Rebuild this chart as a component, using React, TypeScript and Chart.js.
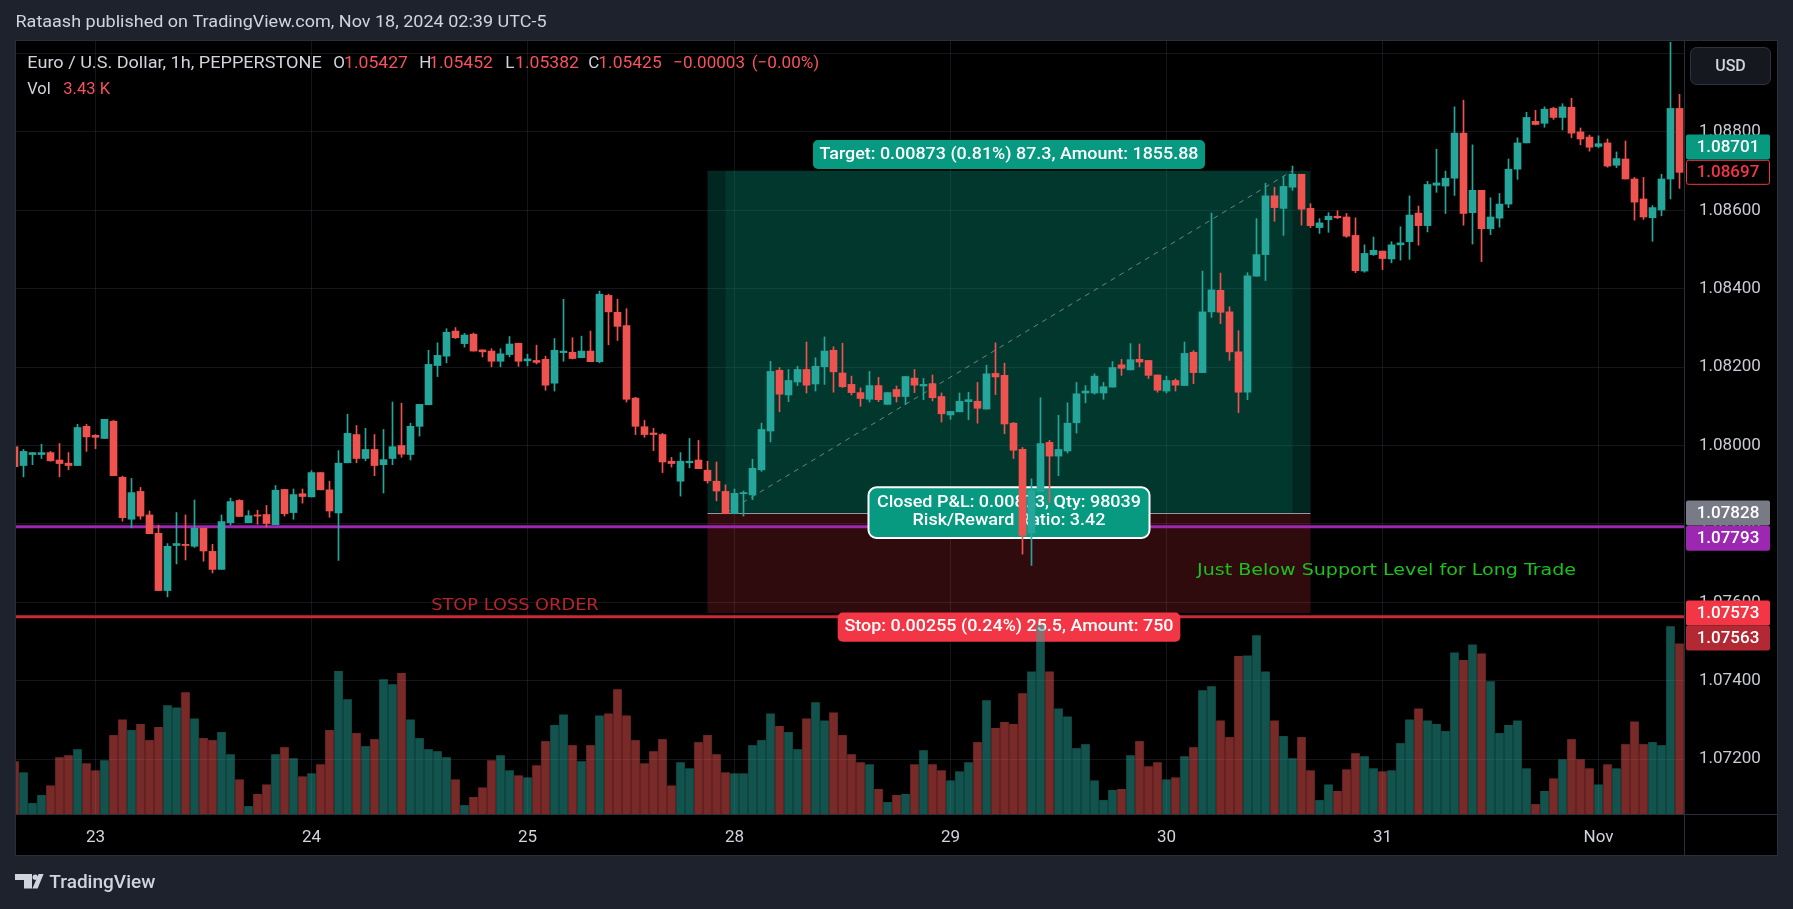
import React, { useEffect, useRef } from 'react';
import { Chart, registerables } from 'chart.js';

Chart.register(...registerables);

const OPEN = [1.07997,1.07949,1.07977,1.07977,1.07982,1.07963,1.07955,1.07949,1.08049,1.08026,1.08018,1.08062,1.07919,1.07812,1.07883,1.07823,1.07776,1.07630,1.07745,1.07748,1.07743,1.07789,1.07730,1.07684,1.07803,1.07860,1.07803,1.07823,1.07824,1.07798,1.07888,1.07829,1.07877,1.07869,1.07931,1.07887,1.07828,1.07956,1.08028,1.07967,1.07990,1.07951,1.07967,1.08000,1.07977,1.08049,1.08104,1.08204,1.08228,1.08292,1.08260,1.08284,1.08244,1.08241,1.08215,1.08232,1.08261,1.08216,1.08217,1.08220,1.08159,1.08237,1.08238,1.08224,1.08241,1.08214,1.08383,1.08340,1.08306,1.08121,1.08048,1.08032,1.08028,1.07960,1.07909,1.07956,1.07963,1.07937,1.07909,1.07883,1.07826,1.07877,1.07874,1.07938,1.08037,1.08192,1.08129,1.08162,1.08194,1.08157,1.08201,1.08243,1.08185,1.08156,1.08135,1.08118,1.08153,1.08105,1.08143,1.08125,1.08172,1.08152,1.08158,1.08125,1.08078,1.08086,1.08112,1.08113,1.08093,1.08184,1.08179,1.08057,1.07990,1.07777,1.07883,1.08008,1.07973,1.07986,1.08058,1.08134,1.08134,1.08134,1.08149,1.08206,1.08193,1.08220,1.08217,1.08180,1.08139,1.08166,1.08153,1.08238,1.08186,1.08341,1.08396,1.08341,1.08239,1.08136,1.08432,1.08487,1.08637,1.08605,1.08659,1.08692,1.08605,1.08556,1.08576,1.08585,1.08583,1.08536,1.08445,1.08487,1.08496,1.08476,1.08512,1.08520,1.08593,1.08561,1.08664,1.08662,1.08682,1.08797,1.08594,1.08651,1.08553,1.08580,1.08616,1.08705,1.08772,1.08827,1.08822,1.08860,1.08837,1.08863,1.08800,1.08787,1.08763,1.08772,1.08715,1.08731,1.08680,1.08629,1.08581,1.08601,1.08680,1.08860];
const HIGH = [1.07999,1.07990,1.07982,1.08003,1.07985,1.08005,1.07982,1.08054,1.08054,1.08028,1.08067,1.08064,1.07922,1.07916,1.07893,1.07833,1.07797,1.07750,1.07829,1.07823,1.07861,1.07789,1.07748,1.07823,1.07866,1.07862,1.07834,1.07835,1.07847,1.07898,1.07888,1.07889,1.07889,1.07936,1.07931,1.07909,1.07987,1.08080,1.08051,1.08044,1.08028,1.08041,1.08111,1.08108,1.08057,1.08105,1.08243,1.08262,1.08298,1.08301,1.08286,1.08287,1.08244,1.08247,1.08247,1.08278,1.08261,1.08233,1.08256,1.08228,1.08273,1.08373,1.08275,1.08279,1.08292,1.08394,1.08386,1.08373,1.08349,1.08123,1.08064,1.08044,1.08031,1.07970,1.07982,1.08018,1.08013,1.07960,1.07958,1.07900,1.07889,1.07884,1.07965,1.08057,1.08215,1.08199,1.08194,1.08202,1.08264,1.08224,1.08277,1.08252,1.08261,1.08177,1.08147,1.08189,1.08174,1.08135,1.08152,1.08176,1.08194,1.08171,1.08180,1.08134,1.08087,1.08134,1.08136,1.08161,1.08205,1.08262,1.08210,1.08059,1.07995,1.07915,1.08122,1.08013,1.08077,1.08109,1.08161,1.08153,1.08183,1.08161,1.08214,1.08220,1.08260,1.08259,1.08217,1.08180,1.08177,1.08170,1.08264,1.08242,1.08445,1.08593,1.08440,1.08354,1.08293,1.08441,1.08579,1.08669,1.08659,1.08686,1.08713,1.08692,1.08617,1.08579,1.08594,1.08599,1.08592,1.08581,1.08512,1.08532,1.08496,1.08520,1.08558,1.08637,1.08611,1.08674,1.08756,1.08700,1.08864,1.08881,1.08767,1.08651,1.08632,1.08643,1.08731,1.08785,1.08850,1.08855,1.08864,1.08863,1.08872,1.08886,1.08810,1.08792,1.08790,1.08782,1.08749,1.08777,1.08684,1.08684,1.08612,1.08692,1.09029,1.08896];
const LOW = [1.07946,1.07920,1.07951,1.07967,1.07960,1.07920,1.07938,1.07949,1.07985,1.07992,1.08018,1.07923,1.07807,1.07790,1.07812,1.07775,1.07630,1.07614,1.07698,1.07708,1.07740,1.07705,1.07675,1.07684,1.07797,1.07819,1.07803,1.07799,1.07792,1.07798,1.07820,1.07812,1.07853,1.07869,1.07887,1.07817,1.07707,1.07956,1.07956,1.07961,1.07923,1.07879,1.07951,1.07970,1.07963,1.08024,1.08104,1.08176,1.08211,1.08273,1.08251,1.08241,1.08226,1.08201,1.08201,1.08226,1.08202,1.08203,1.08208,1.08141,1.08139,1.08215,1.08221,1.08224,1.08214,1.08211,1.08257,1.08268,1.08111,1.08028,1.08021,1.07987,1.07931,1.07945,1.07871,1.07943,1.07941,1.07904,1.07859,1.07826,1.07826,1.07820,1.07862,1.07934,1.08009,1.08086,1.08112,1.08153,1.08134,1.08139,1.08156,1.08136,1.08148,1.08129,1.08100,1.08111,1.08112,1.08105,1.08111,1.08104,1.08135,1.08117,1.08114,1.08060,1.08067,1.08086,1.08066,1.08057,1.08093,1.08130,1.08030,1.07967,1.07723,1.07694,1.07883,1.07855,1.07923,1.07981,1.08032,1.08109,1.08131,1.08118,1.08149,1.08179,1.08193,1.08201,1.08171,1.08136,1.08134,1.08139,1.08153,1.08158,1.08186,1.08327,1.08311,1.08217,1.08084,1.08117,1.08432,1.08421,1.08572,1.08536,1.08651,1.08562,1.08556,1.08541,1.08544,1.08579,1.08531,1.08441,1.08442,1.08485,1.08449,1.08466,1.08473,1.08475,1.08511,1.08545,1.08646,1.08592,1.08638,1.08562,1.08514,1.08469,1.08538,1.08557,1.08607,1.08679,1.08772,1.08818,1.08812,1.08832,1.08805,1.08785,1.08767,1.08751,1.08760,1.08710,1.08709,1.08680,1.08575,1.08577,1.08521,1.08586,1.08629,1.08656];
const CLOSE = [1.07946,1.07985,1.07982,1.07982,1.07961,1.07954,1.07949,1.08046,1.08022,1.08021,1.08067,1.07923,1.07816,1.07880,1.07820,1.07775,1.07630,1.07743,1.07750,1.07745,1.07789,1.07731,1.07684,1.07806,1.07857,1.07819,1.07821,1.07820,1.07801,1.07886,1.07826,1.07875,1.07870,1.07931,1.07887,1.07833,1.07955,1.08031,1.07967,1.07990,1.07949,1.07964,1.07997,1.07978,1.08049,1.08105,1.08207,1.08230,1.08289,1.08275,1.08282,1.08241,1.08239,1.08215,1.08234,1.08259,1.08215,1.08221,1.08212,1.08154,1.08243,1.08241,1.08222,1.08241,1.08214,1.08386,1.08341,1.08304,1.08118,1.08049,1.08028,1.08028,1.07958,1.07954,1.07960,1.07960,1.07941,1.07910,1.07884,1.07826,1.07878,1.07880,1.07942,1.08041,1.08189,1.08131,1.08166,1.08194,1.08154,1.08202,1.08241,1.08188,1.08150,1.08135,1.08120,1.08153,1.08117,1.08135,1.08125,1.08176,1.08154,1.08156,1.08122,1.08081,1.08087,1.08113,1.08117,1.08095,1.08183,1.08175,1.08055,1.07988,1.07771,1.07885,1.08005,1.07973,1.07990,1.08057,1.08132,1.08139,1.08177,1.08150,1.08199,1.08197,1.08219,1.08213,1.08179,1.08141,1.08166,1.08154,1.08235,1.08186,1.08341,1.08397,1.08340,1.08239,1.08136,1.08433,1.08487,1.08637,1.08607,1.08661,1.08692,1.08603,1.08561,1.08568,1.08585,1.08581,1.08534,1.08446,1.08490,1.08498,1.08477,1.08512,1.08517,1.08588,1.08561,1.08666,1.08670,1.08682,1.08797,1.08592,1.08651,1.08553,1.08583,1.08616,1.08705,1.08772,1.08837,1.08819,1.08858,1.08837,1.08864,1.08797,1.08782,1.08761,1.08770,1.08713,1.08732,1.08680,1.08621,1.08583,1.08607,1.08680,1.08860,1.08697];
const VOLUME = [2080,1640,420,740,1120,2240,2320,2560,2000,1720,2120,3120,3740,3320,3560,2920,3440,4300,4220,4820,3780,3000,2920,3240,2360,1360,300,780,1160,2360,2640,2200,1480,1600,1960,3320,5660,4540,3200,2680,2960,5340,5140,5580,3740,3000,2560,2480,2240,1360,340,660,1040,2120,2320,1720,1520,1440,1920,2880,3520,3940,2720,2080,2720,3900,3980,4940,3900,2920,2000,2480,2960,1120,2040,1800,2840,3120,2360,1640,1600,1600,2720,2920,3980,3480,3240,2560,3780,4420,3700,4020,3120,2360,2040,1960,980,460,740,780,1960,2520,1960,1720,1320,1680,2040,2840,4500,3400,3640,3560,4780,5640,7500,5640,4180,3860,2600,2760,1320,540,940,980,2320,2880,1880,2040,1360,1440,2280,2640,4900,5060,3700,3040,6260,6280,7080,5640,3700,3080,2200,3040,1720,540,1160,900,1760,2400,2280,1800,1680,1720,2800,3740,4180,3700,3560,3280,6400,6100,6720,6360,5260,3200,3520,3700,1800,380,900,1400,2160,2960,2160,1800,1160,1960,1800,2760,3660,2760,2840,2720,7440,6760];

const DAY_TICKS = [9, 33, 57, 80, 104, 128, 152, 176];
const DAY_LABELS = ['23', '24', '25', '28', '29', '30', '31', 'Nov'];
const PRICE_TICKS = [1.072, 1.074, 1.076, 1.078, 1.08, 1.082, 1.084, 1.086, 1.088, 1.09];

const ENTRY = 1.07828;
const TARGET = 1.08701;
const STOP = 1.07573;
const SUPPORT = 1.07793;
const STOP_LINE = 1.07563;
const LAST = 1.08697;
const BOX_START = 77;
const BOX_END = 144;
const TRADE_IN = 79;
const TRADE_OUT = 142;

const UP = '#26a69a';
const DOWN = '#ef5350';
const TEXT = '#d1d4dc';
const VALUE_RED = '#f7525f';

function fitText(ctx: CanvasRenderingContext2D, text: string, x: number, y: number, w: number, font: string, color: string, align: CanvasTextAlign = 'left') {
  ctx.save();
  ctx.font = font;
  ctx.fillStyle = color;
  ctx.textBaseline = 'middle';
  ctx.textAlign = align;
  const m = ctx.measureText(text).width || 1;
  ctx.translate(x, y);
  ctx.scale(w / m, 1);
  ctx.fillText(text, 0, 0);
  ctx.restore();
}

function plainText(ctx: CanvasRenderingContext2D, text: string, x: number, y: number, font: string, color: string, align: CanvasTextAlign = 'left') {
  ctx.save();
  ctx.font = font;
  ctx.fillStyle = color;
  ctx.textBaseline = 'middle';
  ctx.textAlign = align;
  ctx.fillText(text, x, y);
  ctx.restore();
}

function rr(ctx: CanvasRenderingContext2D, x: number, y: number, w: number, h: number, r: number) {
  ctx.beginPath();
  ctx.roundRect(x, y, w, h, r);
}

function seg(ctx: CanvasRenderingContext2D, x1: number, y1: number, x2: number, y2: number) {
  ctx.beginPath();
  ctx.moveTo(x1, y1);
  ctx.lineTo(x2, y2);
  ctx.stroke();
}

const decor = {
  id: 'tvDecor',
  beforeDraw(chart: any) {
    const ctx: CanvasRenderingContext2D = chart.ctx;
    ctx.save();
    ctx.fillStyle = '#1e222d';
    ctx.fillRect(0, 0, chart.width, chart.height);
    ctx.fillStyle = '#000000';
    ctx.fillRect(16, 41, 1761, 814);
    ctx.strokeStyle = '#2a2e39';
    ctx.lineWidth = 1;
    ctx.strokeRect(15.5, 40.5, 1762, 815);
    fitText(ctx, 'Rataash published on TradingView.com, Nov 18, 2024 02:39 UTC-5', 15.5, 23, 531, '17px Roboto', TEXT);
    ctx.fillStyle = TEXT;
    ctx.fillRect(15, 874, 17, 6);
    ctx.fillRect(24, 874, 8, 14.5);
    ctx.beginPath();
    ctx.arc(35.2, 877.2, 2.6, 0, Math.PI * 2);
    ctx.fill();
    ctx.beginPath();
    ctx.moveTo(38.6, 874);
    ctx.lineTo(43.6, 874);
    ctx.lineTo(37.6, 888.5);
    ctx.lineTo(32.4, 888.5);
    ctx.closePath();
    ctx.fill();
    fitText(ctx, 'TradingView', 49.3, 883, 106, '500 19px Roboto', TEXT);
    ctx.restore();
  },
  beforeDatasetsDraw(chart: any) {
    const ctx: CanvasRenderingContext2D = chart.ctx;
    const a = chart.chartArea;
    const x = chart.scales.x;
    const y = chart.scales.y;
    ctx.save();
    ctx.beginPath();
    ctx.rect(a.left, a.top, a.right - a.left, a.bottom - a.top);
    ctx.clip();
    const xL = x.getPixelForValue(BOX_START);
    const xR = x.getPixelForValue(BOX_END);
    const xi = x.getPixelForValue(TRADE_IN);
    const xo = x.getPixelForValue(TRADE_OUT);
    const yT = y.getPixelForValue(TARGET);
    const yE = y.getPixelForValue(ENTRY);
    const yS = y.getPixelForValue(STOP);
    ctx.fillStyle = 'rgba(8,153,129,0.25)';
    ctx.fillRect(xL, yT, xR - xL, yE - yT);
    ctx.fillStyle = 'rgba(8,153,129,0.15)';
    ctx.fillRect(xi, yT, xo - xi, yE - yT);
    ctx.fillStyle = 'rgba(242,54,69,0.2)';
    ctx.fillRect(xL, yE, xR - xL, yS - yE);
    ctx.lineWidth = 1;
    ctx.strokeStyle = '#9598a1';
    seg(ctx, xL, Math.round(yE) + 0.5, xR, Math.round(yE) + 0.5);
    ctx.setLineDash([5, 5]);
    ctx.strokeStyle = 'rgba(149,152,161,0.75)';
    seg(ctx, xi, yE, xo, yT);
    ctx.setLineDash([]);
    const yP = y.getPixelForValue(SUPPORT);
    ctx.strokeStyle = '#9c27b0';
    ctx.lineWidth = 3;
    seg(ctx, a.left, yP, a.right, yP);
    const yR = y.getPixelForValue(STOP_LINE);
    ctx.strokeStyle = '#c92a36';
    seg(ctx, a.left, yR, a.right, yR);
    fitText(ctx, 'STOP LOSS ORDER', x.getPixelForValue(46.3), yR - 11, 167.5, '16px "DejaVu Sans"', '#b8232f');
    fitText(ctx, 'Just Below Support Level for Long Trade', x.getPixelForValue(131.4), y.getPixelForValue(1.0768), 379, '16px "DejaVu Sans"', '#1dc21d');
    const cx = (xL + xR) / 2;
    ctx.fillStyle = '#089981';
    rr(ctx, cx - 196, yT - 30.7, 392, 29, 5);
    ctx.fill();
    fitText(ctx, 'Target: 0.00873 (0.81%) 87.3, Amount: 1855.88', cx, yT - 16.2, 379, '500 17px Roboto', '#ffffff', 'center');
    ctx.fillStyle = '#089981';
    ctx.strokeStyle = '#ffffff';
    ctx.lineWidth = 2;
    rr(ctx, cx - 140.5, yE - 25.6, 281, 50.6, 8);
    ctx.fill();
    ctx.stroke();
    fitText(ctx, 'Closed P&L: 0.00873, Qty: 98039', cx, yE - 9.8, 264, '500 17px Roboto', '#ffffff', 'center');
    fitText(ctx, 'Risk/Reward Ratio: 3.42', cx, yE + 8.2, 193, '500 17px Roboto', '#ffffff', 'center');
    ctx.fillStyle = '#f23645';
    rr(ctx, cx - 171.3, yS - 0.4, 342.6, 29.2, 5);
    ctx.fill();
    fitText(ctx, 'Stop: 0.00255 (0.24%) 25.5, Amount: 750', cx, yS + 14.2, 329, '500 17px Roboto', '#ffffff', 'center');
    ctx.restore();
  },
  afterDraw(chart: any) {
    const ctx: CanvasRenderingContext2D = chart.ctx;
    const a = chart.chartArea;
    const y = chart.scales.y;
    ctx.save();
    ctx.strokeStyle = '#2a2e39';
    ctx.lineWidth = 1;
    seg(ctx, a.right + 0.5, 41, a.right + 0.5, 855);
    seg(ctx, 16, a.bottom + 0.5, 1777, a.bottom + 0.5);
    fitText(ctx, 'Euro / U.S. Dollar, 1h, PEPPERSTONE', 27.3, 64, 294.4, '17px Roboto', TEXT);
    plainText(ctx, 'O', 333.3, 64, '17px Roboto', TEXT);
    fitText(ctx, '1.05427', 344, 64, 64, '17px Roboto', VALUE_RED);
    plainText(ctx, 'H', 419.3, 64, '17px Roboto', TEXT);
    fitText(ctx, '1.05452', 429, 64, 64, '17px Roboto', VALUE_RED);
    plainText(ctx, 'L', 505.3, 64, '17px Roboto', TEXT);
    fitText(ctx, '1.05382', 515, 64, 64, '17px Roboto', VALUE_RED);
    plainText(ctx, 'C', 588.3, 64, '17px Roboto', TEXT);
    fitText(ctx, '1.05425', 598.3, 64, 63.4, '17px Roboto', VALUE_RED);
    fitText(ctx, '\u22120.00003', 673.3, 64, 71.7, '17px Roboto', VALUE_RED);
    fitText(ctx, '(\u22120.00%)', 751.7, 64, 67.6, '17px Roboto', VALUE_RED);
    fitText(ctx, 'Vol', 27.3, 89.5, 23.4, '17px Roboto', TEXT);
    fitText(ctx, '3.43 K', 63.3, 89.5, 46.7, '17px Roboto', VALUE_RED);
    const labels = [
      { p: LAST, bg: '#000000', fg: '#f23645', border: '#f23645' },
      { p: TARGET, anchor: LAST, dir: -1, bg: '#089981', fg: '#ffffff' },
      { p: ENTRY, bg: '#787b86', fg: '#ffffff' },
      { p: SUPPORT, anchor: ENTRY, dir: 1, bg: '#9c27b0', fg: '#ffffff' },
      { p: STOP, bg: '#f23645', fg: '#ffffff' },
      { p: STOP_LINE, anchor: STOP, dir: 1, bg: '#b22833', fg: '#ffffff' },
    ];
    for (const l of labels as any[]) {
      const yc = l.anchor !== undefined ? y.getPixelForValue(l.anchor) + l.dir * 25.2 : y.getPixelForValue(l.p);
      ctx.fillStyle = l.bg;
      rr(ctx, a.right + 2, yc - 12.5, 84, 25, 2);
      ctx.fill();
      if (l.border) {
        ctx.strokeStyle = l.border;
        ctx.lineWidth = 1;
        rr(ctx, a.right + 2.5, yc - 12, 83, 24, 2);
        ctx.stroke();
      }
      plainText(ctx, l.p.toFixed(5), a.right + 44, yc + 0.5, '500 17px Roboto', l.fg, 'center');
    }
    ctx.fillStyle = '#15181f';
    ctx.strokeStyle = '#2f333e';
    ctx.lineWidth = 1;
    rr(ctx, 1690.5, 47.5, 80, 37, 6);
    ctx.fill();
    ctx.stroke();
    plainText(ctx, 'USD', 1730.5, 66.5, '500 16px Roboto', TEXT, 'center');
    ctx.restore();
  },
};

export default function App() {
  const ref = useRef<HTMLCanvasElement>(null);
  useEffect(() => {
    const canvas = ref.current;
    if (!canvas) return;
    const bodies = OPEN.map((o, i) => ({ x: i, y: [o, CLOSE[i]] }));
    const wicks = LOW.map((l, i) => ({ x: i, y: [l, HIGH[i]] }));
    const vols = VOLUME.map((v, i) => ({ x: i, y: v }));
    const colors = OPEN.map((o, i) => (CLOSE[i] >= o ? UP : DOWN));
    const volColors = OPEN.map((o, i) => (CLOSE[i] >= o ? 'rgba(38,166,154,0.5)' : 'rgba(239,83,80,0.5)'));
    const gridColor = 'rgba(54,58,69,0.38)';
    const chart = new Chart(canvas, {
      type: 'bar',
      data: {
        datasets: [
          { label: 'Body', data: bodies as any, backgroundColor: colors, barThickness: 7, minBarLength: 1, grouped: false, order: 0, clip: 0, yAxisID: 'y' } as any,
          { label: 'Wick', data: wicks as any, backgroundColor: colors, barThickness: 1, grouped: false, order: 1, clip: 0, yAxisID: 'y' } as any,
          { label: 'Volume', data: vols as any, backgroundColor: volColors, barThickness: 8, grouped: false, order: 2, clip: 0, yAxisID: 'vol' } as any,
        ],
      },
      options: {
        responsive: false,
        maintainAspectRatio: false,
        animation: false,
        devicePixelRatio: 1,
        events: [],
        layout: { padding: { left: 16, top: 41, right: 16, bottom: 54 } },
        plugins: { legend: { display: false }, tooltip: { enabled: false } },
        scales: {
          x: {
            type: 'linear',
            position: 'bottom',
            min: 1 / 6,
            max: 185.5,
            offset: false,
            bounds: 'data',
            grid: { color: gridColor, drawTicks: false, offset: false },
            border: { display: false },
            afterBuildTicks: (s: any) => { s.ticks = DAY_TICKS.map((v) => ({ value: v })); },
            afterFit: (s: any) => { s.height = 41; },
            ticks: {
              autoSkip: false,
              maxRotation: 0,
              padding: 14,
              color: TEXT,
              font: { family: 'Roboto', size: 17 },
              callback: (v: any) => { const i = DAY_TICKS.indexOf(Number(v)); return i >= 0 ? DAY_LABELS[i] : ''; },
            },
          },
          y: {
            type: 'linear',
            position: 'right',
            min: 1.0706,
            max: 1.09032,
            bounds: 'data',
            grid: { color: gridColor, drawTicks: false },
            border: { display: false },
            afterBuildTicks: (s: any) => { s.ticks = PRICE_TICKS.map((v) => ({ value: v })); },
            afterFit: (s: any) => { s.width = 93; },
            ticks: {
              crossAlign: 'center',
              padding: 15,
              color: '#c9ccd4',
              font: { family: 'Roboto', size: 17 },
              callback: (v: any) => (Number(v) >= 1.0899 ? '' : Number(v).toFixed(5)),
            },
          },
          vol: {
            type: 'linear',
            display: false,
            min: 0,
            max: 30690,
          },
        },
      } as any,
      plugins: [decor as any],
    });
    return () => chart.destroy();
  }, []);
  return (
    <div style={{ position: 'fixed', left: 0, top: 0, width: 1793, height: 909, background: '#1e222d' }}>
      <canvas ref={ref} width={1793} height={909} style={{ display: 'block', width: 1793, height: 909 }} />
    </div>
  );
}
